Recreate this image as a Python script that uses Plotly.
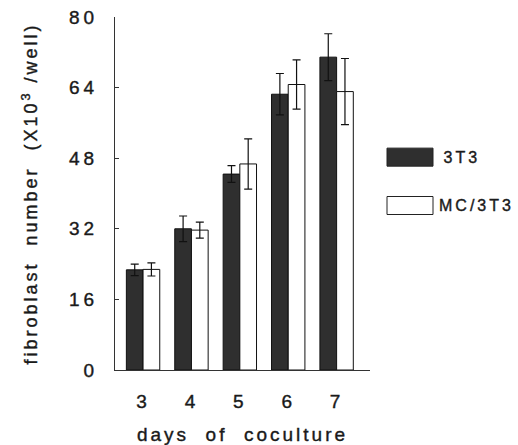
import plotly.graph_objects as go

days = [3, 4, 5, 6, 7]
series_names = ["3T3", "MC/3T3"]
vals_3t3 = [22.7, 32.0, 44.4, 62.5, 70.9]
err_3t3 = [1.3, 2.9, 1.9, 4.7, 5.3]
vals_mc = [22.8, 31.7, 46.7, 64.7, 63.1]
err_mc = [1.5, 1.8, 5.7, 5.6, 7.5]
y_ticks = [0, 16, 32, 48, 64, 80]

dark = "#2f2f2f"
font = "Liberation Sans, Arial, sans-serif"

fig = go.Figure()
fig.add_trace(go.Bar(
    x=days, y=vals_3t3, name=series_names[0],
    marker=dict(color=dark, line=dict(color="#111", width=1)),
    error_y=dict(type="data", array=err_3t3, color="#111", thickness=1.2, width=4),
))
fig.add_trace(go.Bar(
    x=days, y=vals_mc, name=series_names[1],
    marker=dict(color="white", line=dict(color="#111", width=1)),
    error_y=dict(type="data", array=err_mc, color="#111", thickness=1.2, width=4),
))

fig.update_layout(
    width=518, height=445,
    margin=dict(l=115, r=148, t=17, b=75),
    barmode="group", bargap=0.31, bargroupgap=0,
    plot_bgcolor="white", paper_bgcolor="white",
    showlegend=False,
    font=dict(family=font, color="#1a1a1a"),
)
fig.update_xaxes(
    range=[2.42, 7.69], tickvals=days, ticktext=[str(d) for d in days],
    showline=True, linecolor="#333", linewidth=1, ticks="", showgrid=False,
    zeroline=False, tickfont=dict(size=19), ticklabelstandoff=14, automargin=False,
    title=dict(text="days  of  coculture", font=dict(size=19), standoff=22),
)
fig.update_yaxes(
    range=[0, 80], tickvals=y_ticks, ticktext=[str(t) for t in y_ticks],
    showline=True, linecolor="#333", linewidth=1, ticks="inside", ticklen=4,
    tickcolor="#333", showgrid=False, zeroline=False, automargin=False,
    tickfont=dict(size=19), ticklabelstandoff=12,
    title=dict(text="fibroblast  number  (X10<sup>3</sup> /well)", font=dict(size=18), standoff=34),
)

# manual legend with large swatches
leg = [(series_names[0], dark, 0.603), (series_names[1], "white", 0.466)]
for name, col, yc in leg:
    fig.add_shape(type="rect", xref="paper", yref="paper",
                  x0=(387 - 115) / 255, x1=(433 - 115) / 255,
                  y0=yc - 0.0255, y1=yc + 0.0255,
                  fillcolor=col, line=dict(color="#222", width=1))
    fig.add_annotation(xref="paper", yref="paper", x=(446 - 115) / 255, y=yc,
                       text=name, showarrow=False, xanchor="left", yanchor="middle",
                       font=dict(size=16, color="#1a1a1a"))

post = """
var gd = document.getElementById('{plot_id}');
function sp(sel, v){ gd.querySelectorAll(sel).forEach(function(e){
  e.style.letterSpacing = v; e.style.stroke = '#1a1a1a'; e.style.strokeWidth = '0.4px'; }); }
sp('.xtick text', '3px');
sp('.ytick text', '4px');
sp('.g-xtitle text', '3px');
sp('.g-ytitle text', '3px');
sp('.annotation-text', '3px');
"""
fig.write_html("out.html", post_script=post)
